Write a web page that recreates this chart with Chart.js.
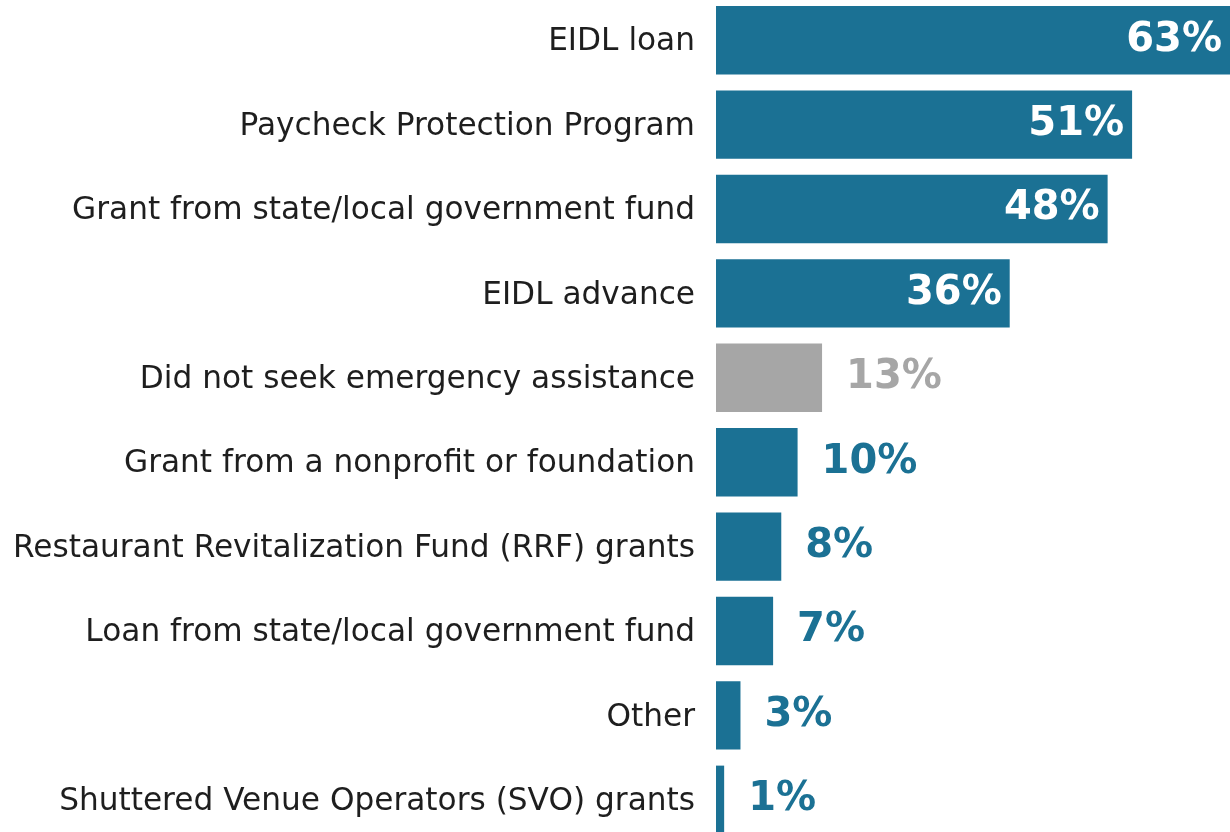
<!DOCTYPE html>
<html>
<head>
<meta charset="utf-8">
<script src="https://cdn.jsdelivr.net/npm/chart.js@4"></script>
<style>
  html, body { margin: 0; padding: 0; background: #fff; overflow: hidden; }
  #wrap { position: absolute; left: 0; top: -2px; width: 1230px; height: 844px; }
</style>
</head>
<body>
<div id="wrap"><canvas id="c"></canvas></div>
<script>
const categories = [
  "EIDL loan",
  "Paycheck Protection Program",
  "Grant from state/local government fund",
  "EIDL advance",
  "Did not seek emergency assistance",
  "Grant from a nonprofit or foundation",
  "Restaurant Revitalization Fund (RRF) grants",
  "Loan from state/local government fund",
  "Other",
  "Shuttered Venue Operators (SVO) grants"
];
const values = [63, 51, 48, 36, 13, 10, 8, 7, 3, 1];
const valueLabels = ["63%", "51%", "48%", "36%", "13%", "10%", "8%", "7%", "3%", "1%"];
const BLUE = "#1b7194";
const GREY = "#a6a6a6";
const barColors = values.map((v, i) => categories[i] === "Did not seek emergency assistance" ? GREY : BLUE);

const valueLabelPlugin = {
  id: "valueLabels",
  afterDatasetsDraw(chart) {
    const ctx = chart.ctx;
    const meta = chart.getDatasetMeta(0);
    ctx.save();
    ctx.font = "bold 40px 'DejaVu Sans'";
    ctx.textBaseline = "middle";
    meta.data.forEach((bar, i) => {
      const v = values[i];
      const y = bar.y;
      if (v >= 30) {
        ctx.fillStyle = "#ffffff";
        ctx.textAlign = "right";
        ctx.fillText(valueLabels[i], bar.x - 8, y);
      } else {
        ctx.fillStyle = barColors[i];
        ctx.textAlign = "left";
        ctx.fillText(valueLabels[i], bar.x + 24, y);
      }
    });
    ctx.restore();
  }
};

new Chart(document.getElementById("c"), {
  type: "bar",
  data: {
    labels: categories,
    datasets: [{
      data: values,
      backgroundColor: barColors,
      borderWidth: 0,
      barPercentage: 0.81,
      categoryPercentage: 1.0
    }]
  },
  options: {
    indexAxis: "y",
    responsive: true,
    maintainAspectRatio: false,
    animation: false,
    layout: { padding: 0 },
    plugins: { legend: { display: false }, tooltip: { enabled: false } },
    scales: {
      x: {
        min: 0, max: 63,
        display: false,
        grid: { display: false }
      },
      y: {
        grid: { display: false, drawTicks: false },
        border: { display: false },
        ticks: {
          color: "#1e1e1e",
          font: { family: "'DejaVu Sans'", size: 31.2 },
          padding: 21,
          labelOffset: 2,
          autoSkip: false
        },
        afterFit(scale) {
          scale.width = 716;
          scale.paddingTop = 0;
          scale.paddingBottom = 0;
        }
      }
    }
  },
  plugins: [valueLabelPlugin]
});
</script>
</body>
</html>
